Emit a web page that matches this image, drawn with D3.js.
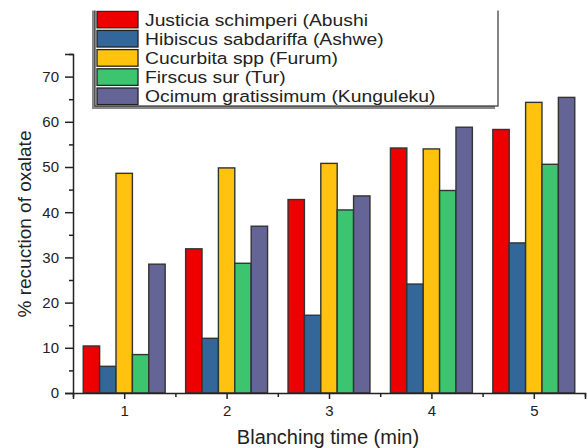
<!DOCTYPE html>
<html><head><meta charset="utf-8">
<script src="https://cdn.jsdelivr.net/npm/d3@7"></script>
<style>body{margin:0;background:#fff}svg{display:block}text{font-family:"Liberation Sans",Arial,sans-serif;fill:#222}</style>
</head><body><div id="chart"></div>
<script>
const categories = [1, 2, 3, 4, 5];
const seriesNames = ["Justicia schimperi (Abushi", "Hibiscus sabdariffa (Ashwe)", "Cucurbita spp (Furum)", "Firscus sur (Tur)", "Ocimum gratissimum (Kunguleku)"];
const seriesColors = ["#EE0000", "#336699", "#FFC20E", "#3CC46E", "#646496"];
const abushi = [10.4, 31.9, 42.8, 54.2, 58.3];
const ashwe = [5.9, 12.1, 17.2, 24.1, 33.2];
const furum = [48.6, 49.8, 50.8, 54.0, 64.3];
const tur = [8.5, 28.7, 40.5, 44.8, 50.6];
const kunguleku = [28.5, 36.9, 43.6, 58.8, 65.4];
const seriesValues = [abushi, ashwe, furum, tur, kunguleku];
const yTicks = [0, 10, 20, 30, 40, 50, 60, 70];
const xTitle = "Blanching time (min)";
const yTitle = "% recuction of oxalate";

const W = 587, H = 448;
const svg = d3.select("#chart").append("svg").attr("width", W).attr("height", H);
const x = d3.scaleLinear().domain([0.5, 5.5]).range([73, 585]);
const y = d3.scaleLinear().domain([0, 75]).range([393, 54]);
const bw = 0.16;

// bars
seriesValues.forEach((vals, i) => {
  svg.append("g").selectAll("rect").data(vals).join("rect")
    .attr("x", (d, j) => x(categories[j] + (i - 2.5) * bw))
    .attr("width", x(bw) - x(0))
    .attr("y", d => y(d))
    .attr("height", d => y(0) - y(d))
    .attr("fill", seriesColors[i])
    .attr("stroke", "#333").attr("stroke-width", 1.4);
});

// y axis
svg.append("g").attr("transform", `translate(${x(0.5)},0)`)
  .call(d3.axisLeft(y).tickValues(yTicks).tickSize(8).tickPadding(6).tickFormat(d3.format("d")));
svg.append("g").attr("transform", `translate(${x(0.5)},0)`)
  .call(d3.axisLeft(y).tickValues([5, 15, 25, 35, 45, 55, 65, 75]).tickSize(4).tickFormat(""))
  .select(".domain").remove();
// x axis
svg.append("g").attr("transform", `translate(0,${y(0)})`)
  .call(d3.axisBottom(x).tickValues(categories).tickSize(6).tickPadding(6).tickFormat(d3.format("d")));
svg.append("g").attr("transform", `translate(0,${y(0)})`)
  .call(d3.axisBottom(x).tickValues([0.5, 1.5, 2.5, 3.5, 4.5, 5.5]).tickSize(4).tickFormat(""))
  .select(".domain").remove();
svg.selectAll(".domain").attr("stroke", "#222").attr("stroke-width", 1.5);
svg.selectAll(".tick line").attr("stroke", "#222").attr("stroke-width", 1.5);
svg.selectAll(".tick text").attr("font-size", 15).attr("fill", "#222")
  .style("font-family", '"Liberation Sans",Arial,sans-serif');

// titles
svg.append("text").attr("x", 328).attr("y", 444).attr("text-anchor", "middle")
  .attr("font-size", 20).text(xTitle);
svg.append("text").attr("transform", "translate(31,224) rotate(-90)")
  .attr("text-anchor", "middle").attr("font-size", 19).text(yTitle);

// legend
const lg = svg.append("g");
const lx = 95, ly = -4, lw = 403, lh = 110;
lg.append("rect").attr("x", lx - 3).attr("y", ly + 3).attr("width", lw).attr("height", lh).attr("fill", "#888");
lg.append("rect").attr("x", lx).attr("y", ly).attr("width", lw).attr("height", lh).attr("fill", "#fff")
  .attr("stroke", "#333").attr("stroke-width", 1.2);
seriesNames.forEach((n, i) => {
  const cy = 19.5 + i * 19.2;
  lg.append("rect").attr("x", 97).attr("y", cy - 8.3).attr("width", 41).attr("height", 16.6)
    .attr("fill", seriesColors[i]).attr("stroke", "#222").attr("stroke-width", 1.3);
  lg.append("text").attr("transform", `translate(145,${cy + 6}) scale(1.17,1)`)
    .attr("font-size", 16.5).text(n);
});
svg.append("rect").attr("x", 0).attr("y", 0).attr("width", W).attr("height", 10.5).attr("fill", "#fff");
</script></body></html>
